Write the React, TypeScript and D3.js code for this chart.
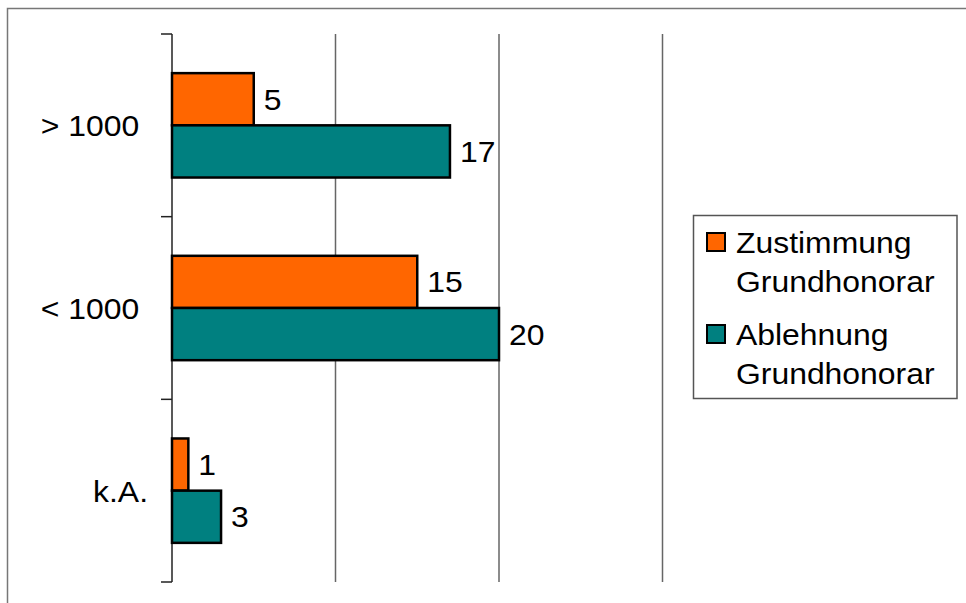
import React from "react";
import * as d3 from "d3";

const categories = ["> 1000\u00a0", "< 1000\u00a0", "k.A."];
const seriesNames = ["Zustimmung Grundhonorar", "Ablehnung Grundhonorar"];
const zustimmung = [5, 15, 1];
const ablehnung = [17, 20, 3];
const legendLines = [["Zustimmung", "Grundhonorar"], ["Ablehnung", "Grundhonorar"]];
const colors = ["#FF6600", "#008080"];
const xTicks = [0, 10, 20, 30];

const W = 966;
const H = 603;
const plot = { left: 172, right: 662.5, top: 34, bottom: 582 };
const FONT = "Arial, 'Liberation Sans', sans-serif";
const FS = 29;
const SX = 1.1;

export default function App() {
  const x = d3.scaleLinear().domain([0, 30]).range([plot.left, plot.right]);
  const y0 = d3.scaleBand<string>().domain(categories).range([plot.top, plot.bottom]).padding(0);
  const y1 = d3
    .scaleBand<string>()
    .domain(seriesNames)
    .range([0, y0.bandwidth()])
    .paddingInner(0)
    .paddingOuter(0.75);
  const series = [zustimmung, ablehnung];
  const tickYs = categories.map((c) => y0(c) as number).concat([plot.bottom]);

  const txt = (tx: number, ty: number, s: string, anchor: string, key: string) => (
    <text
      key={key}
      transform={`translate(${tx},${ty}) scale(${SX},1)`}
      fontFamily={FONT}
      fontSize={FS}
      textAnchor={anchor}
      dominantBaseline="central"
      fill="#000"
      style={{ whiteSpace: "pre" }}
    >
      {s}
    </text>
  );

  return (
    <svg
      width={W}
      height={H}
      style={{ position: "absolute", left: 0, top: 0, display: "block", background: "#fff" }}
    >
      <rect x={7.5} y={8.5} width={W + 10} height={H + 10} fill="#fff" stroke="#777" strokeWidth={1.5} />
      {xTicks.slice(1).map((t) => (
        <line key={"g" + t} x1={x(t)} x2={x(t)} y1={plot.top} y2={plot.bottom} stroke="#666" strokeWidth={1.5} />
      ))}
      <line x1={plot.left} x2={plot.left} y1={plot.top} y2={plot.bottom} stroke="#222" strokeWidth={1.5} />
      {tickYs.map((ty, i) => (
        <line key={"t" + i} x1={plot.left - 11} x2={plot.left} y1={ty} y2={ty} stroke="#222" strokeWidth={1.5} />
      ))}
      {categories.map((c, ci) =>
        series.map((vals, si) => {
          const yy = (y0(c) as number) + (y1(seriesNames[si]) as number);
          const h = y1.bandwidth();
          return (
            <g key={c + si}>
              <rect
                x={x(0)}
                y={yy}
                width={x(vals[ci]) - x(0)}
                height={h}
                fill={colors[si]}
                stroke="#000"
                strokeWidth={2.5}
              />
              {txt(x(vals[ci]) + 10, yy + h / 2, String(vals[ci]), "start", "l" + c + si)}
            </g>
          );
        })
      )}
      {categories.map((c) =>
        txt(148, (y0(c) as number) + y0.bandwidth() / 2 + 0.5, c, "end", "c" + c)
      )}
      <rect x={693.5} y={215.5} width={263.5} height={183} fill="#fff" stroke="#555" strokeWidth={1.5} />
      {legendLines.map((lines, i) => (
        <g key={"lg" + i}>
          <rect
            x={707}
            y={233 + i * 92}
            width={18}
            height={18}
            fill={colors[i]}
            stroke="#000"
            strokeWidth={2}
          />
          {lines.map((ln, j) => txt(736, 243 + i * 92 + j * 38.5, ln, "start", "lt" + i + j))}
        </g>
      ))}
    </svg>
  );
}
